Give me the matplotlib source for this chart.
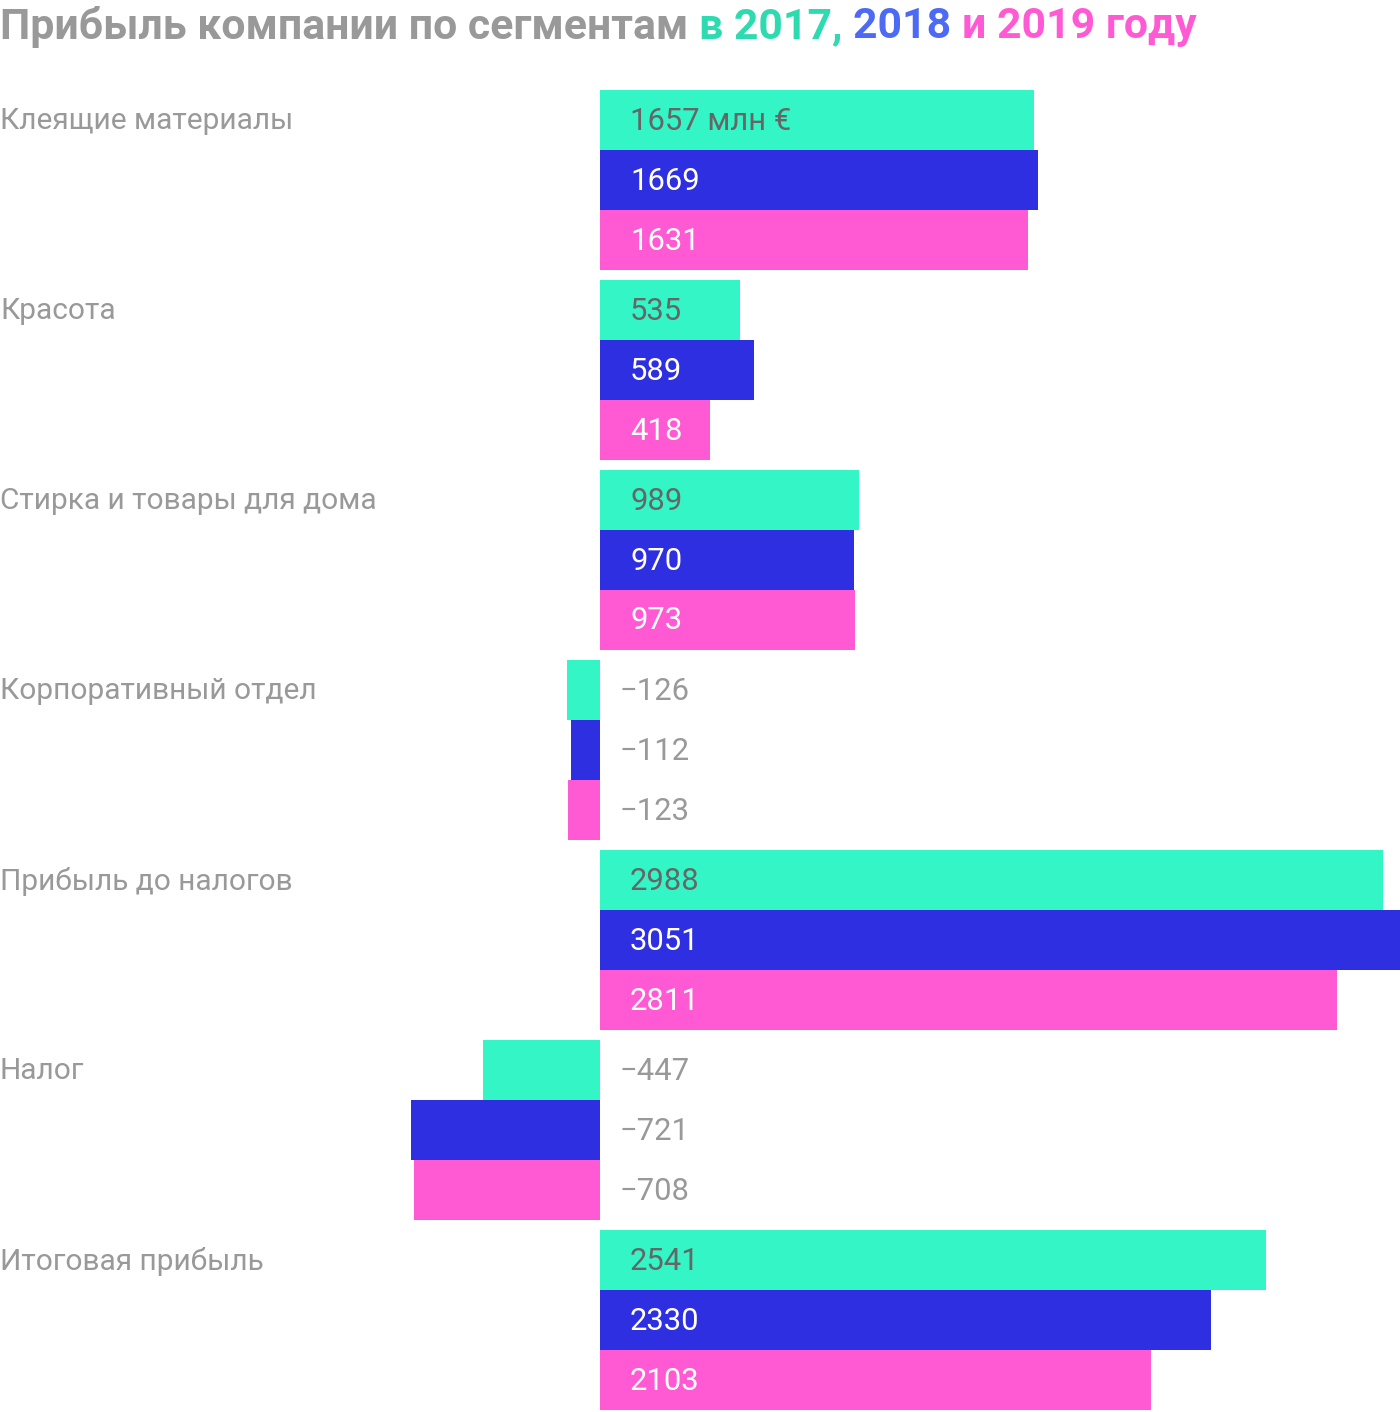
import matplotlib
matplotlib.use("Agg")
import matplotlib.pyplot as plt
from matplotlib.transforms import blended_transform_factory, offset_copy

categories = ["Клеящие материалы", "Красота", "Стирка и товары для дома",
              "Корпоративный отдел", "Прибыль до налогов", "Налог", "Итоговая прибыль"]
years = ["2017", "2018", "2019"]
v2017 = [1657, 535, 989, -126, 2988, -447, 2541]
v2018 = [1669, 589, 970, -112, 3051, -721, 2330]
v2019 = [1631, 418, 973, -123, 2811, -708, 2103]
series = [v2017, v2018, v2019]

bar_colors = ["#33f5c6", "#2f2fe2", "#ff5ad4"]
text_colors = ["#666666", "#ffffff", "#ffffff"]
title_colors = ["#2edbb0", "#4d6af5", "#ff5ad4"]
gray = "#999999"

plt.rcParams['font.family'] = ['Roboto', 'DejaVu Sans']

W, H = 1400, 1412
fig = plt.figure(figsize=(W/100, H/100), dpi=100)
ax = fig.add_axes([0, (H-1410)/H, 1, 1320/H])
ax.set_axis_off()

gstride = 19/6
xmax = max(max(s) for s in series)
xmin = -xmax * 600/800
ax.set_xlim(xmin, xmax)
ax.set_ylim(6*gstride + 3, 0)

up = 2 * 0.72  # points

for si, vals in enumerate(series):
    ys = [g*gstride + si + 0.5 for g in range(len(categories))]
    ax.barh(ys, vals, height=1.0, color=bar_colors[si], linewidth=0)
    for g, (y, v) in enumerate(zip(ys, vals)):
        if v >= 0:
            lab = f"{v}" + (" млн €" if (g == 0 and si == 0) else "")
            tr = offset_copy(ax.transData, fig=fig, x=30*0.72, y=up, units='points')
            ax.text(0, y, lab, transform=tr, ha='left', va='center_baseline',
                    fontsize=22.3, color=text_colors[si])
        else:
            lab = f"\u2212{-v}"
            tr = offset_copy(ax.transData, fig=fig, x=20*0.72, y=up, units='points')
            ax.text(0, y, lab, transform=tr, ha='left', va='center_baseline',
                    fontsize=22.3, color=gray)

btr = offset_copy(blended_transform_factory(fig.transFigure, ax.transData),
                  fig=fig, x=0, y=up, units='points')
for g, cat in enumerate(categories):
    ax.text(0.0, g*gstride + 0.5, cat, transform=btr, ha='left', va='center_baseline',
            fontsize=21.5, color=gray)

parts = [("Прибыль компании по сегментам ", gray), ("в 2017, ", title_colors[0]),
         ("2018 ", title_colors[1]), ("и 2019 году", title_colors[2])]
renderer = fig.canvas.get_renderer()
x = 0.0
for txt, col in parts:
    t = fig.text(x, 1 - 22/H, txt, ha='left', va='center_baseline', fontsize=30.8,
                 fontweight='bold', color=col)
    bb = t.get_window_extent(renderer=renderer)
    x = bb.x1 / W

fig.savefig("out.png", dpi=100)
